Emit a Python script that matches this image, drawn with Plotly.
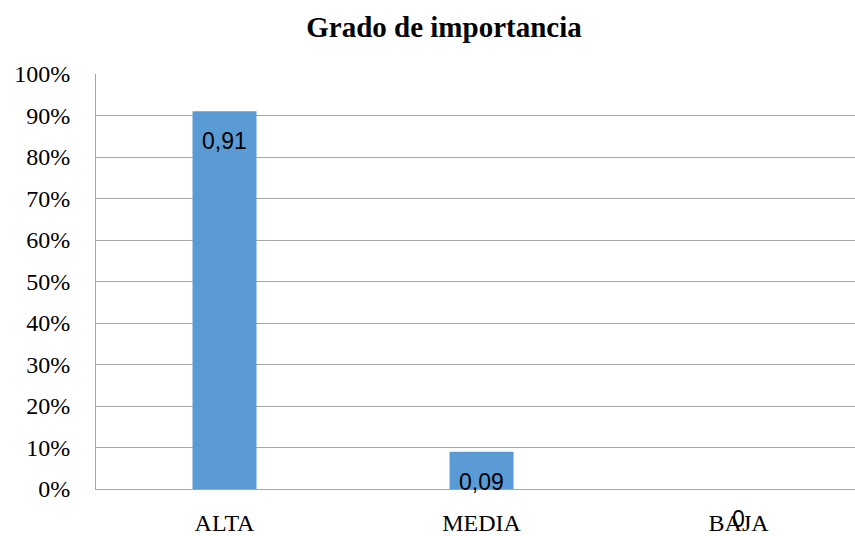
import plotly.graph_objects as go


# =====================================================
# DATA
# =====================================================

categories = ["ALTA", "MEDIA", "BAJA"]

values = [0.91, 0.09, 0]

value_labels = ["0,91", "0,09", "0"]

tick_values = [0, 0.1, 0.2, 0.3, 0.4, 0.5, 0.6, 0.7, 0.8, 0.9, 1.0]

tick_labels = ["0%", "10%", "20%", "30%", "40%", "50%", "60%", "70%", "80%", "90%", "100%"]


# =====================================================
# BAR CHART
# =====================================================

fig = go.Figure()

fig.add_trace(

    go.Bar(

        x=categories,

        y=values,

        width=0.249,

        marker=dict(color="#5B9BD5", line=dict(width=0)),

        hoverinfo="skip"

    )

)

for cat, val, lab in zip(categories, values, value_labels):

    fig.add_annotation(

        x=cat,

        y=val,

        text=lab,

        showarrow=False,

        yanchor="middle",

        yshift=-30,

        font=dict(family="Liberation Sans", size=23, color="#000000")

    )

fig.update_layout(

    template="plotly_white",

    width=855,

    height=536,

    margin=dict(l=96, r=0, t=74, b=47),

    paper_bgcolor="white",

    plot_bgcolor="white",

    showlegend=False,

    title=dict(

        text="<b>Grado de importancia</b>",

        x=444 / 855,

        xref="container",

        xanchor="center",

        y=1 - 27 / 536,

        yref="container",

        yanchor="middle",

        font=dict(family="Liberation Serif", size=29, color="#000000")

    ),

    xaxis=dict(

        range=[-0.5, 2.453],

        showgrid=False,

        showline=True,

        linecolor="#A6A6A6",

        linewidth=1,

        ticks="",

        automargin=False,

        ticklabelstandoff=12,

        tickfont=dict(family="Liberation Serif", size=24, color="#000000")

    ),

    yaxis=dict(

        range=[0, 1],

        tickvals=tick_values,

        ticktext=tick_labels,

        showgrid=True,

        gridcolor="#A6A6A6",

        gridwidth=1,

        showline=True,

        linecolor="#A6A6A6",

        linewidth=1,

        zeroline=False,

        ticks="",

        automargin=False,

        ticklabelstandoff=20,

        tickfont=dict(family="Liberation Serif", size=24, color="#000000")

    )

)

# drop the default body margin so the figure sits at the window's corner
fig.write_html(

    "out.html",

    config={"displayModeBar": False},

    post_script="document.body.style.margin = '0';"

)
